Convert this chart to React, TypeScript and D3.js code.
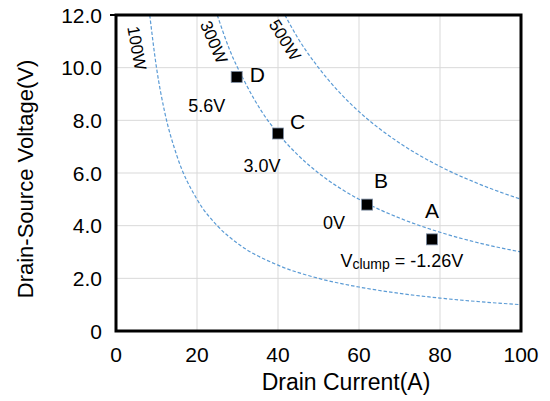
import React from "react";
import * as d3 from "d3";

// chart values
const xTicks = [0, 20, 40, 60, 80, 100];
const yTicks = [0, 2, 4, 6, 8, 10, 12];
const yTickLabels = ["0", "2.0", "4.0", "6.0", "8.0", "10.0", "12.0"];

const powerLabels = ["100W", "300W", "500W"];
const curve100I = [8.33, 10, 12, 15, 20, 25, 30, 40, 50, 60, 70, 80, 90, 100];
const curve100V = [12, 10, 8.33, 6.67, 5, 4, 3.33, 2.5, 2, 1.67, 1.43, 1.25, 1.11, 1.0];
const curve300I = [25, 28, 32, 36, 40, 45, 50, 60, 70, 80, 90, 100];
const curve300V = [12, 10.7, 9.4, 8.33, 7.5, 6.67, 6, 5, 4.29, 3.75, 3.33, 3.0];
const curve500I = [41.7, 45, 50, 55, 60, 70, 80, 90, 100];
const curve500V = [12, 11.1, 10, 9.09, 8.33, 7.14, 6.25, 5.56, 5.0];

const pointNames = ["A", "B", "C", "D"];
const pointCurrent = [78, 62, 40, 29.8];
const pointVoltage = [3.48, 4.8, 7.5, 9.65];
const gateLabels = ["-1.26V", "0V", "3.0V", "5.6V"];

const W = 550;
const H = 401;
const m = { left: 116, right: 521, top: 15, bottom: 331 };
const font = "'Liberation Sans', Arial, sans-serif";

// label offsets (pixels) from each point
const nameOff = [[-7, -21], [7, -17], [12, -5], [13, 5]];
const gateOff = [[-30, 28], [-33, 24], [-16, 38], [-30, 35]];
// curve label placement: [x, y, angle]
const powerPos = [[137, 48, 80], [214, 42, 67], [285, 40, 58]];

export default function App() {
  const x = d3.scaleLinear().domain([0, 100]).range([m.left, m.right]);
  const y = d3.scaleLinear().domain([0, 12]).range([m.bottom, m.top]);

  const curves = [
    d3.zip(curve100I, curve100V),
    d3.zip(curve300I, curve300V),
    d3.zip(curve500I, curve500V),
  ];
  const line = d3
    .line<number[]>()
    .x((d) => x(d[0]))
    .y((d) => y(d[1]))
    .curve(d3.curveMonotoneX);

  return (
    <svg
      width={W}
      height={H}
      style={{ position: "absolute", left: 0, top: 0, background: "#fff" }}
      fontFamily={font}
    >
      {/* grid */}
      {xTicks.slice(1, -1).map((t) => (
        <line key={"gx" + t} x1={x(t)} x2={x(t)} y1={y(0)} y2={y(12)} stroke="#d9d9d9" strokeWidth={1} />
      ))}
      {yTicks.slice(1, -1).map((t) => (
        <line key={"gy" + t} x1={x(0)} x2={x(100)} y1={y(t)} y2={y(t)} stroke="#d9d9d9" strokeWidth={1} />
      ))}

      {/* constant power curves */}
      {curves.map((c, i) => (
        <path key={"c" + i} d={line(c) || ""} fill="none" stroke="#5b9bd5" strokeWidth={1.2} strokeDasharray="3.5,2" />
      ))}
      {powerLabels.map((p, i) => (
        <text
          key={p}
          transform={`translate(${powerPos[i][0]},${powerPos[i][1]}) rotate(${powerPos[i][2]})`}
          textAnchor="middle"
          dy="0.35em"
          fontSize={17}
          fill="#000"
        >
          {p}
        </text>
      ))}

      {/* frame */}
      <rect x={x(0)} y={y(12)} width={x(100) - x(0)} height={y(0) - y(12)} fill="none" stroke="#000" strokeWidth={3} />
      <line x1={x(0) - 6} x2={x(0)} y1={y(12)} y2={y(12)} stroke="#000" strokeWidth={2} />

      {/* operating points */}
      {pointNames.map((n, i) => {
        const px = x(pointCurrent[i]);
        const py = y(pointVoltage[i]);
        return (
          <g key={n}>
            <rect x={px - 5.5} y={py - 5.5} width={11} height={11} fill="#000" stroke="#7f8fa6" strokeWidth={0.8} />
            <text x={px + nameOff[i][0]} y={py + nameOff[i][1]} fontSize={21}>
              {n}
            </text>
            {i === 0 ? (
              <text x={px + gateOff[i][0]} y={py + gateOff[i][1]} fontSize={18} textAnchor="middle">
                V<tspan fontSize={14} dy={2}>clump</tspan>
                <tspan dy={-2}> = {gateLabels[i]}</tspan>
              </text>
            ) : (
              <text x={px + gateOff[i][0]} y={py + gateOff[i][1]} fontSize={18} textAnchor="middle">
                {gateLabels[i]}
              </text>
            )}
          </g>
        );
      })}

      {/* axes labels */}
      {xTicks.map((t) => (
        <text key={"tx" + t} x={x(t)} y={362} textAnchor="middle" fontSize={21}>
          {t}
        </text>
      ))}
      {yTicks.map((t, i) => (
        <text key={"ty" + t} x={x(0) - 14} y={y(t)} dy="0.36em" textAnchor="end" fontSize={21}>
          {yTickLabels[i]}
        </text>
      ))}
      <text x={346} y={390} textAnchor="middle" fontSize={23}>
        Drain Current(A)
      </text>
      <text transform={`translate(33,179) rotate(-90)`} textAnchor="middle" fontSize={22}>
        Drain-Source Voltage(V)
      </text>
    </svg>
  );
}
